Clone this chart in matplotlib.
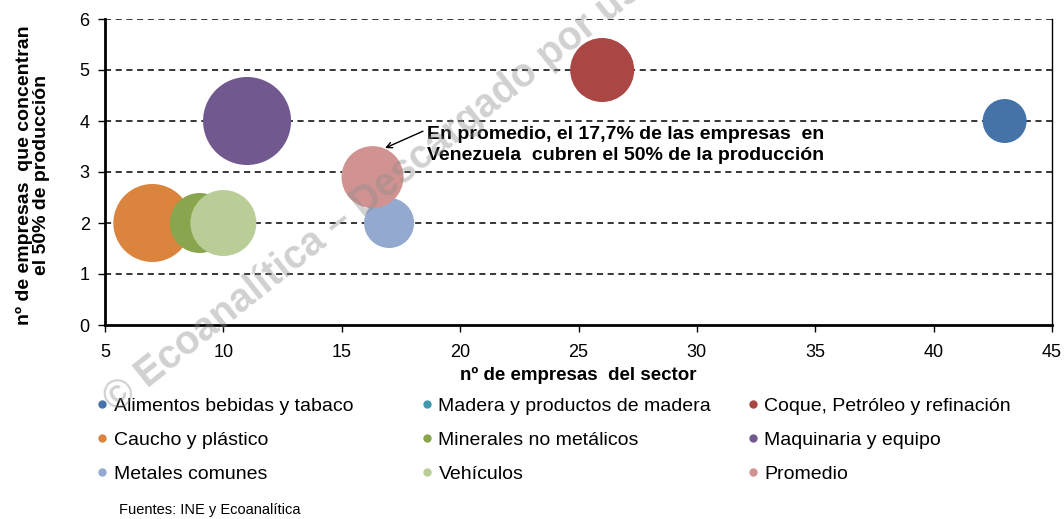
import matplotlib
matplotlib.use("Agg")
import matplotlib.pyplot as plt
from matplotlib.lines import Line2D
import numpy as np

plt.rcParams['font.family'] = ['Liberation Sans', 'DejaVu Sans']

# datos por sector
sectores = ["Alimentos bebidas y tabaco", "Madera y productos de madera",
            "Coque, Petróleo y refinación", "Caucho y plástico",
            "Minerales no metálicos", "Maquinaria y equipo",
            "Metales comunes", "Vehículos", "Promedio"]
empresas_sector = [43, np.nan, 26, 7, 9, 11, 17, 10, 16.3]   # eje x
empresas_50 = [4, np.nan, 5, 2, 2, 4, 2, 2, 2.9]             # eje y
burbuja = [484, np.nan, 1024, 1521, 900, 1936, 625, 1089, 961]  # tamaño relativo
colores = ["#4572A7", "#4198AF", "#AA4643", "#DB843D", "#89A54E",
           "#71588F", "#93A9CF", "#B9CD96", "#D19392"]

fig = plt.figure(figsize=(10.64, 5.19), dpi=100)
ax = fig.add_axes([105/1064, 1 - 325/519, (1052 - 105)/1064, (325 - 19)/519])

escala = 1.44 ** 2  # px^2 -> pt^2
for i in range(len(sectores)):
    if np.isnan(empresas_sector[i]):
        continue
    ax.scatter(empresas_sector[i], empresas_50[i], s=burbuja[i]*escala,
               color=colores[i], edgecolors='none', zorder=3)

ax.set_xlim(5, 45)
ax.set_ylim(0, 6)
ax.set_xticks(range(5, 50, 5))
ax.set_yticks(range(0, 7))
for yv in range(1, 7):
    ax.axhline(yv, color='black', lw=1.1, ls=(0, (4, 3)), zorder=1)

ax.spines['top'].set_visible(False)
ax.spines['left'].set_linewidth(2)
ax.spines['bottom'].set_linewidth(2)
ax.spines['right'].set_linewidth(1)
ax.tick_params(direction='out', length=5, width=1, labelsize=13)
ax.tick_params(axis='x', pad=9)
ax.tick_params(axis='y', pad=6)

ax.set_xlabel("nº de empresas  del sector", fontsize=13.5, fontweight='bold', labelpad=4)
ax.set_ylabel("nº de empresas  que concentran\nel 50% de producción", fontsize=14,
              fontweight='bold', linespacing=1.0)
ax.yaxis.set_label_coords(-0.058, 0.49)

ax.text(18.6, 3.53, "En promedio, el 17,7% de las empresas  en\nVenezuela  cubren el 50% de la producción",
        fontsize=14, fontweight='bold', va='center', ha='left', linespacing=1.3)
ax.annotate("", xy=(16.83, 3.47), xytext=(18.43, 3.80),
            arrowprops=dict(arrowstyle='->', color='black', lw=1, shrinkA=0, shrinkB=0))

# leyenda en tres columnas
columnas = [[0, 3, 6], [1, 4, 7], [2, 5, 8]]
xcol = [96/1064, 421/1064, 747/1064]
for c, idx in enumerate(columnas):
    handles = [Line2D([], [], ls='none', marker='o', ms=6, color=colores[k], mec='none')
               for k in idx]
    fig.legend(handles, [sectores[k] for k in idx], loc='upper left',
               bbox_to_anchor=(xcol[c], 1 - 397/519), frameon=False, fontsize=14,
               borderpad=0, borderaxespad=0, handlelength=0.6, handletextpad=0.3,
               labelspacing=0.85)

fig.text(119/1064, 1 - 514/519, "Fuentes: INE y Ecoanalítica", fontsize=10.5, va='baseline')

# marca de agua
fig.text(116/1064, 1 - 414/519, "© Ecoanalítica – Descargado por usuario",
         fontsize=28.5, fontweight='bold', color='0.55', alpha=0.4, rotation=38.5,
         rotation_mode='anchor', ha='left', va='baseline', zorder=10)

fig.savefig("out.png", dpi=100)
